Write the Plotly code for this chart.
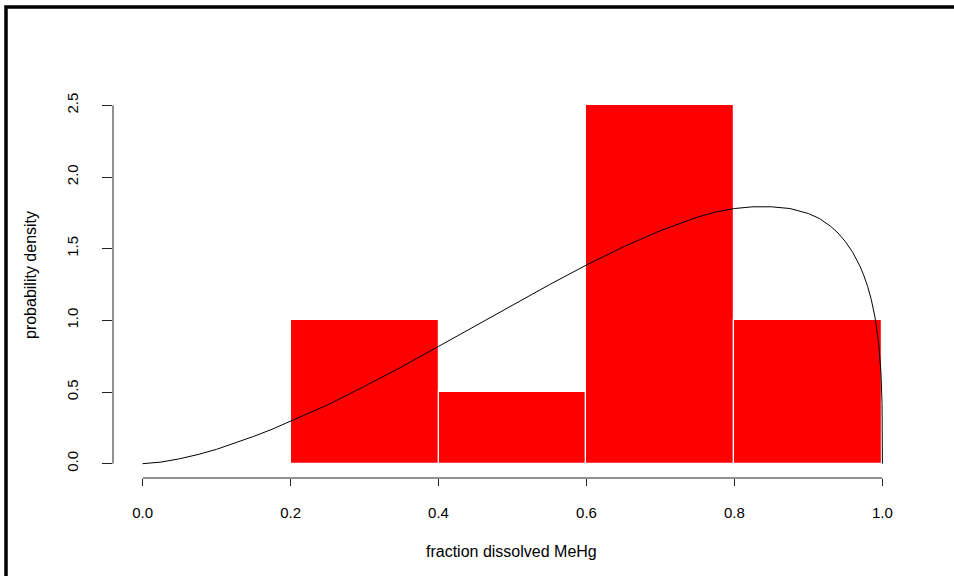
import plotly.graph_objects as go

# histogram of fraction dissolved MeHg (density scale)
bin_left = [0.2, 0.4, 0.6, 0.8]
bin_width = 0.2
bin_density = [1.0, 0.5, 2.5, 1.0]

# fitted density curve
curve_x = [0.0, 0.025, 0.05, 0.075, 0.1, 0.125, 0.15, 0.175, 0.2, 0.225,
           0.25, 0.3, 0.35, 0.4, 0.45, 0.5, 0.55, 0.6, 0.65, 0.7, 0.75,
           0.775, 0.8, 0.825, 0.85, 0.875, 0.9, 0.915, 0.93, 0.94, 0.95,
           0.96, 0.97, 0.975, 0.98, 0.985, 0.99, 0.995, 0.998, 0.9995, 1.0]
curve_y = [0.0, 0.011, 0.034, 0.064, 0.10, 0.143, 0.19, 0.24, 0.295, 0.352,
           0.41, 0.54, 0.675, 0.818, 0.962, 1.107, 1.249, 1.386, 1.513,
           1.626, 1.72, 1.756, 1.78, 1.792, 1.792, 1.78, 1.745, 1.71,
           1.656, 1.609, 1.549, 1.473, 1.374, 1.311, 1.237, 1.144, 1.021,
           0.836, 0.638, 0.42, 0.0]

x_ticks = [0.0, 0.2, 0.4, 0.6, 0.8, 1.0]
x_labels = ["0.0", "0.2", "0.4", "0.6", "0.8", "1.0"]
y_ticks = [0.0, 0.5, 1.0, 1.5, 2.0, 2.5]
y_labels = ["0.0", "0.5", "1.0", "1.5", "2.0", "2.5"]

W, H = 954, 576
ML, MR, MT, MB = 113, 42, 91, 98
FONT = "Liberation Sans, Arial, Helvetica, sans-serif"


def px_x(p):
    return (p - ML) / (W - ML - MR)


def px_y(p):
    return (H - MB - p) / (H - MT - MB)


fig = go.Figure()
fig.add_trace(go.Bar(
    x=[b + bin_width / 2 for b in bin_left],
    y=bin_density,
    width=bin_width,
    marker=dict(color="#FF0000", line=dict(color="white", width=1.2)),
    hoverinfo="skip",
))
fig.add_trace(go.Scatter(
    x=curve_x, y=curve_y, mode="lines",
    line=dict(color="black", width=1),
    hoverinfo="skip",
))

fig.update_layout(
    width=W, height=H,
    margin=dict(l=ML, r=MR, t=MT, b=MB),
    paper_bgcolor="white", plot_bgcolor="white",
    showlegend=False,
    font=dict(family=FONT, size=15, color="black"),
    bargap=0,
    xaxis=dict(
        range=[-0.04, 1.04], showgrid=False, zeroline=False, showline=False,
        tickmode="array", tickvals=x_ticks, ticktext=x_labels,
        ticks="outside", ticklen=7, tickwidth=1, tickcolor="#222",
        ticklabelstandoff=14,
    ),
    yaxis=dict(
        range=[-0.1, 2.6], showgrid=False, zeroline=False, showline=False,
        tickmode="array", tickvals=y_ticks, ticktext=y_labels,
        ticks="outside", ticklen=10, tickwidth=1, tickcolor="#222",
        tickangle=-90, ticklabelstandoff=18,
    ),
    shapes=[
        # R-style axis lines spanning first to last tick
        dict(type="line", xref="x", yref="paper", x0=0, x1=1, y0=0, y1=0,
             line=dict(color="#222", width=1)),
        dict(type="line", xref="paper", yref="y", x0=0, x1=0, y0=0, y1=2.5,
             line=dict(color="#222", width=1)),
        # outer frame (partially cropped)
        dict(type="rect", xref="paper", yref="paper",
             x0=px_x(6), x1=px_x(W + 20), y0=px_y(H + 20), y1=px_y(7),
             line=dict(color="black", width=3.5)),
    ],
    annotations=[
        dict(text="fraction dissolved MeHg", xref="paper", yref="paper",
             x=px_x(511.5), y=px_y(551), showarrow=False,
             xanchor="center", yanchor="middle", font=dict(size=16)),
        dict(text="probability density", xref="paper", yref="paper",
             x=px_x(30), y=px_y(275), showarrow=False, textangle=-90,
             xanchor="center", yanchor="middle", font=dict(size=16)),
    ],
)

fig.write_html(
    "out.html",
    config={"displayModeBar": False},
    post_script="document.body.style.margin='0';",
)
